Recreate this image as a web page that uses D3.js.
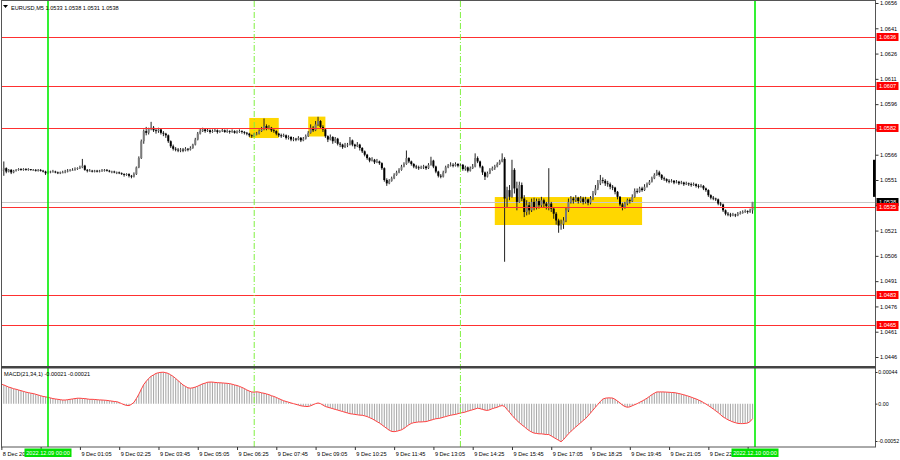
<!DOCTYPE html>
<html><head><meta charset="utf-8">
<script src="https://cdn.jsdelivr.net/npm/d3@7"></script>
<style>
body{margin:0;background:#fff}
svg{display:block}
text{font-family:"Liberation Sans",Arial,sans-serif;}
</style>
</head><body>
<svg id="chart" width="900" height="460"></svg>
<script>
// ---------------- DATA ----------------
const symbol = "EURUSD,M5";
const pipBase = 1.05;          // prices below are in pips above 1.0500
const firstBarTime = Date.UTC(2022, 11, 8, 22, 25);
const barMinutes = 5;

const opens = [
56.5,57,58,56,57,55.5,56.5,57,57.5,57,
57.5,57,57.5,57,57,56.5,57,56.5,56,55,
55.5,56,56,55.5,55,55.5,55.5,56,56.5,57,
57,57.5,58,58.5,59.5,57,56.5,56.5,56,56.5,
56,56.5,56.5,57,56.5,56,56,55.5,55.5,55,
54.5,54,54.5,53.5,53,54.5,58.5,64,74,80,
79,81.5,82,80.5,80,81,79,78.5,77.5,74,
71,69.5,69,68.5,69,68.5,69.5,69,70,72,
75,78.5,80,81,80,80.5,79.5,80,80.5,79.5,
80,80.5,79.5,80,79.5,80,79,79.5,80,79.5,
79,78.5,77.5,77,78,78.5,80,81,83,81.5,
82,80.5,80,78.5,77.5,77,77.5,76,76.5,75,
75.5,75,76,74.5,75.5,77,79,82,80.5,84,
86,82.5,81,77,75,76.5,74,75.5,72.5,72,
70.5,71.5,72,74.5,72,71,72,70,68,66,
64,62.5,63,61.5,62,61,58,51,49,50.5,
52,54,55.5,57,59,60.5,64,62,60.5,59,
58.5,58,58.5,59,58,60,62.5,59,56,53.5,
53,55.5,58.5,59.5,60,59.5,60.5,59.5,60,57.5,
58.5,56.5,58,59,64,62,59,55.5,53,55,
57,58,59,60.5,62,63.5,40,45,41,57,
46,38,48,40,32,36,33,38,35,38.5,
36,39,37,35.5,37,34,31,27,24,25,
27,33,38,40,39,40.5,38.5,40,38,39.5,
37.5,40,43,46,49,51,50.5,49,48.5,47,
46.5,44,41,36.5,35,37,39,38.5,41,44.5,
44,46,45,47,48.5,50,52,54,55.5,54,
52,51.5,50.5,50,50.5,49.5,50,49,49.5,48.5,
49,48.5,48,48.5,47.5,47,47.5,46,45,42,
40.5,40,39.5,37,36.5,33,31,30.5,30,30.5,
30,31,31.5,32,32.5,32,33];

const highs = [
58,62,58.5,57.5,57.5,57,57.5,58,58,58,
58,58,57.5,57.5,57.5,57.5,57.5,57,56.5,56.5,
56.5,57,56.5,56,56,56.5,57,57.5,57.5,58,
58.5,58.5,59.5,63.5,60,57.5,57.5,57,57,57,
57,57.5,57.5,57.5,57,56.5,56.5,56,56,55.5,
55,55,55,54,55.5,59,65,75,81,82.5,
82,85.5,83,81.5,82,81.5,80,79,78,74.5,
72,70.5,70,70,70,70.5,70,71,72.5,76,
79.5,81.5,82,81.5,81.5,81,81,81.5,81,80.5,
81.5,81,81,80.5,81,80.5,80.5,81,80.5,80,
79.5,79,78,79,79.5,81,82.5,87.5,84,83.5,
82.5,81.5,80.5,79,78.5,78.5,78,77.5,77,76.5,
76,77,76.5,76.5,78,80,84,83,86,88.5,
86.5,83.5,81.5,77.5,78,77,76.5,76,73.5,72.5,
73,73,76.5,75,72.5,73.5,72.5,70.5,68.5,66.5,
64.5,64.5,63.5,63.5,62.5,61.5,58.5,52,51.5,53,
55,56.5,58,60,61.5,68.5,64.5,62.5,61,60,
59.5,59.5,60,59.5,61,64.8,63,59.5,56.5,54.5,
56.5,59.5,60.5,61.5,61,61.5,61,61,60.5,59.5,
59,59,60.5,66.8,65,62.5,59.5,56,56,58,
59,60,61.5,63,66.8,64.5,47,48,63,58,
50,50,49.5,42,39,38,40,40.5,40,40,
41,40,38,58,38,35,32,28,27.5,29,
34.5,40,41.5,41,42,41,41.5,41,41,40,
41.5,44.5,48,51,54,52.5,51.5,50.5,49.5,48,
47,44.5,41.5,37.5,38,40,40,42.5,46,46,
47,47,48.5,49.5,51,53,55,57,56.5,54.5,
53,52,51.5,51.5,51,51,50.5,50.5,50,50,
49.5,49.5,49.5,49,48.5,48.5,48,46.5,45.5,42.5,
41.5,40.5,40,38,37,33.5,32,31.5,31.5,31,
32,32.5,33,33.5,33,34,38];

const lows = [
55.5,53.5,55,55.5,54.5,55,56,56.5,56.5,56.5,
56.5,56.5,56.5,56.5,56,56,56,55.5,54,54.5,
55,55.5,55,54.5,54.5,55,55,55.5,56,56.5,
56.5,57,57.5,58,56.5,55.5,56,55.5,55.5,55.5,
55.5,56,56,56,55.5,55,55,54.5,54.5,54,
53,53.5,52.5,52,52.5,54,58,63.5,72.5,77.5,
78,80.5,79.5,78.5,79,78,77,76,73,70,
68.5,68,67.5,67.5,67.5,68,68,68.5,69.5,71.5,
74.5,78,79.5,79,79.5,78.5,79,79.5,78.5,79,
79.5,79,79,78.5,79,78.5,78.5,79,78.5,78,
77.5,76.5,76,76.5,77.5,78,79.5,80.5,80.5,81,
79.5,79,77.5,76.5,76,76.5,75,75,74,74,
74,74.5,73.5,74,75,76.5,78.5,79.5,80,83,
81.5,79.5,76,73.5,74.5,72.5,73,71.5,70.5,69.5,
70,70.5,71.5,71,69.5,70.5,68.5,67,65,63,
61.5,62,60.5,61,60,57,50,47.5,48.5,50,
51.5,53.5,55,56.5,58.5,60,61,59.5,58,57.5,
57,57.5,57.5,57,57.5,59.5,58,55,52.5,52,
52.5,55,58,59,58.5,59,58.5,58.5,56.5,56.5,
55.5,56,57.5,58.5,61,58,54,51,52.5,54.5,
56.5,57,58.5,60,61.5,2.5,35,39,40.5,43,
33,37.5,38.5,29,30,30.5,32,33,33.5,34,
35,35,33.5,33,32,28,24.5,19.7,21.5,22,
26,32,37,37,38,37,37.5,36.5,37,36,
36.5,39,42,45,48,49,47.5,47,45.5,45,
42.5,39.5,35.5,33,34,36,37,38,40.5,43,
43.5,44,44.5,46.5,48,49.5,51.5,53.5,53,51,
50.5,49.5,49,49.5,48.5,49,48,48.5,47.5,48,
47.5,47,47.5,46.5,46,46.5,45,44,41,39.5,
39,38.5,36,35.5,32,30,29.5,29,29.5,29,
29.5,30.5,31,31.5,31,31.5,31];

const closes = [
57,58,56,57,55.5,56.5,57,57.5,57,57.5,
57,57.5,57,57,56.5,57,56.5,56,55,55.5,
56,56,55.5,55,55.5,55.5,56,56.5,57,57,
57.5,58,58.5,59.5,57,56.5,56.5,56,56.5,56,
56.5,56.5,57,56.5,56,56,55.5,55.5,55,54.5,
54,54.5,53.5,53,54.5,58.5,64,74,80,79,
81.5,82,80.5,80,81,79,78.5,77.5,74,71,
69.5,69,68.5,69,68.5,69.5,69,70,72,75,
78.5,80,81,80,80.5,79.5,80,80.5,79.5,80,
80.5,79.5,80,79.5,80,79,79.5,80,79.5,79,
78.5,77.5,77,78,78.5,80,81,83,81.5,82,
80.5,80,78.5,77.5,77,77.5,76,76.5,75,75.5,
75,76,74.5,75.5,77,79,82,80.5,84,86,
82.5,81,77,75,76.5,74,75.5,72.5,72,70.5,
71.5,72,74.5,72,71,72,70,68,66,64,
62.5,63,61.5,62,61,58,51,49,50.5,52,
54,55.5,57,59,60.5,64,62,60.5,59,58.5,
58,58.5,59,58,60,62.5,59,56,53.5,53,
55.5,58.5,59.5,60,59.5,60.5,59.5,60,57.5,58.5,
56.5,58,59,64,62,59,55.5,53,55,57,
58,59,60.5,62,63.5,40,45,41,57,46,
38,48,40,32,36,33,38,35,38.5,36,
39,37,35.5,37,34,31,27,24,25,27,
33,38,40,39,40.5,38.5,40,38,39.5,37.5,
40,43,46,49,51,50.5,49,48.5,47,46.5,
44,41,36.5,35,37,39,38.5,41,44.5,44,
46,45,47,48.5,50,52,54,55.5,54,52,
51.5,50.5,50,50.5,49.5,50,49,49.5,48.5,49,
48.5,48,48.5,47.5,47,47.5,46,45,42,40.5,
40,39.5,37,36.5,33,31,30.5,30,30.5,30,
31,31.5,32,32.5,32,33,38];

// MACD(21,34,1) main value per bar, in units of 0.00001 (signal = main, period 1)
const macdValues = [
27,26,24.5,23,22,20.7,20,19,18,17,
16,15.3,14.5,14,13,12,11,10,9.5,8.6,
8,7,6.5,6,5.5,5,5,5.5,6,6.5,
7,7.5,7.5,7.2,7,6.5,6,6,5.8,5.4,
5.2,5,4.8,4.5,4,3.5,3,2.7,1.5,0,
-1.5,-2.5,-2.7,-1,1.8,7,13,20,26.6,31,
35,38,40,42,43,43.5,43.7,43,42,40,
37.8,35,32,29,26,24,22,21.5,22,23,
24.3,26,27.5,28.5,29.7,30,30,29.5,29.2,29,
28.8,28.5,28.2,27.8,27,26,25.2,24,22.5,21,
19,17.5,16.2,16,16.5,16,15,14.4,13.5,12.5,
11,10,8.6,7,5.5,4,3,2,0.9,0,
-1,-2,-3,-3.5,-4,-4,-3,-1.5,0,0.9,
0,-2,-4,-5,-6,-7,-8,-9,-10,-11,
-12,-13,-14,-14.5,-15,-15.5,-16,-16.2,-17,-18,
-19.5,-21,-23,-25,-27,-29.5,-32,-34.5,-37,-38.7,
-39,-38.5,-37.5,-36.5,-34.5,-32,-29.5,-27.5,-26.5,-26,
-25.5,-25.5,-25.2,-25,-24,-23,-22,-21,-20.7,-20,
-19,-18,-17,-16.2,-15.5,-15,-14,-13,-12.5,-11.7,
-10.5,-9.5,-8.5,-7.5,-6.3,-7,-8,-9,-9.5,-8.5,
-7,-6,-5,-3.5,-2.7,-4,-8,-12,-16.2,-20,
-23.5,-26.5,-29.5,-32,-35,-37.5,-39.5,-41,-41.5,-42,
-42,-42.5,-43,-43,-45,-47,-49,-51,-53,-50,
-46,-42,-38.7,-35.5,-32.5,-29.5,-26.5,-23.5,-20.7,-17,
-13,-9,-5,-1,3,6.3,7.5,8,8,7.7,
6,3.5,1,-2,-4,-5,-4.5,-3,-1.5,0,
1.8,3.5,5.5,7.5,10,12.5,14.5,16.2,16.3,16.3,
16.2,16,15.8,15.5,15.3,14.8,14,13.2,12.3,11.3,
10.2,9,7.7,6.5,5,3.5,1.5,-0.5,-2.7,-5,
-7.5,-10,-12.5,-15.5,-18.5,-20.5,-22.5,-24,-25.5,-26.5,
-27.5,-27.8,-27.8,-27.5,-27,-25,-21];

const levelPrices = [1.0636, 1.0607, 1.0582, 1.0535, 1.0483, 1.0465];
const priceTicks = [1.0446,1.0461,1.0476,1.0491,1.0506,1.0521,1.0536,1.0551,1.0566,1.0581,1.0596,1.0611,1.0626,1.0641,1.0656];
const macdTicks = [0.00044, 0, -0.00052];
const macdTickLabels = ["0.00044", "0.00", "-0.00052"];
const lastPrice = 1.0538;
const scaleMarker = [1.0541, 1.0563];

const boxStarts = ["2022-12-09T06:50Z", "2022-12-09T08:50Z", "2022-12-09T15:10Z"];
const boxEnds   = ["2022-12-09T07:50Z", "2022-12-09T09:25Z", "2022-12-09T20:10Z"];
const boxHighs  = [1.05878, 1.05886, 1.05409];
const boxLows   = [1.05759, 1.05768, 1.05243];

const dayLines = ["2022-12-09T00:00Z", "2022-12-10T00:00Z"];
const dayLabels = ["2022.12.09 00:00", "2022.12.10 00:00"];
const sessionLines = ["2022-12-09T07:00Z", "2022-12-09T14:00Z"];

// ---------------- LAYOUT ----------------
const W = 900, H = 460;
const L = 1, R = 875.5, T = 1, mainB = 366, macdT = 368.5, B = 447;

const svg = d3.select("#chart");
const toPrice = v => +(pipBase + v / 10000).toFixed(5);
const barTime = i => new Date(firstBarTime + i * barMinutes * 60000);
const bars = closes.map((c, i) => ({
  t: barTime(i), o: toPrice(opens[i]), h: toPrice(highs[i]), l: toPrice(lows[i]), c: toPrice(c),
  m: macdValues[i] / 100000
}));

const x = d3.scaleUtc()
  .domain([new Date(dayLines[0]), new Date(dayLines[1])])
  .range([48, 755]);
const y = d3.scaleLinear().domain([1.0446, 1.0656]).range([357, 3]);
const ym = d3.scaleLinear().domain([-0.00052, 0.00044]).range([441, 372]);

svg.append("rect").attr("width", W).attr("height", H).attr("fill", "#fff");

const defs = svg.append("defs");
defs.append("clipPath").attr("id", "mainClip").append("rect")
  .attr("x", L).attr("y", T).attr("width", R - L).attr("height", mainB - T);
defs.append("clipPath").attr("id", "macdClip").append("rect")
  .attr("x", L).attr("y", macdT).attr("width", R - L).attr("height", B - macdT);

const main = svg.append("g").attr("clip-path", "url(#mainClip)");
const macdG = svg.append("g").attr("clip-path", "url(#macdClip)");

// yellow rectangles (background)
main.selectAll("rect.box").data(boxStarts).join("rect").attr("class", "box")
  .attr("x", (d, i) => x(new Date(d)))
  .attr("width", (d, i) => x(new Date(boxEnds[i])) - x(new Date(d)))
  .attr("y", (d, i) => y(boxHighs[i]))
  .attr("height", (d, i) => y(boxLows[i]) - y(boxHighs[i]))
  .attr("fill", "#ffd700");

// current price line
main.append("line").attr("x1", L).attr("x2", R)
  .attr("y1", Math.round(y(lastPrice)) + 0.5).attr("y2", Math.round(y(lastPrice)) + 0.5)
  .attr("stroke", "#c8c8c8").attr("stroke-width", 1);

// candles
const cg = main.append("g");
cg.selectAll("line.wick").data(bars).join("line").attr("class", "wick")
  .attr("x1", d => x(d.t)).attr("x2", d => x(d.t))
  .attr("y1", d => y(d.h)).attr("y2", d => y(d.l))
  .attr("stroke", "#222").attr("stroke-width", 1);
cg.selectAll("rect.body").data(bars).join("rect").attr("class", "body")
  .attr("x", d => x(d.t) - 1).attr("width", 2)
  .attr("y", d => y(Math.max(d.o, d.c)))
  .attr("height", d => Math.max(0.8, Math.abs(y(d.o) - y(d.c))))
  .attr("fill", d => d.c >= d.o ? "#7a7a7a" : "#000");

// red level lines
main.selectAll("line.lvl").data(levelPrices).join("line").attr("class", "lvl")
  .attr("x1", L).attr("x2", R)
  .attr("y1", d => Math.round(y(d)) + 0.5).attr("y2", d => Math.round(y(d)) + 0.5)
  .attr("stroke", "#ff3030").attr("stroke-width", 1);

// MACD histogram + signal line
macdG.selectAll("line.hist").data(bars).join("line").attr("class", "hist")
  .attr("x1", d => x(d.t)).attr("x2", d => x(d.t))
  .attr("y1", ym(0)).attr("y2", d => ym(d.m))
  .attr("stroke", "#ababab").attr("stroke-width", 1.1);
macdG.append("path").datum(bars)
  .attr("d", d3.line().x(d => x(d.t)).y(d => ym(d.m)))
  .attr("fill", "none").attr("stroke", "#ff4040").attr("stroke-width", 1);

// vertical lines
const vg = svg.append("g");
vg.selectAll("line.day").data(dayLines).join("line").attr("class", "day")
  .attr("x1", d => x(new Date(d))).attr("x2", d => x(new Date(d)))
  .attr("y1", T).attr("y2", B)
  .attr("stroke", "#00ee00").attr("stroke-width", 1.6);
vg.selectAll("line.sess").data(sessionLines).join("line").attr("class", "sess")
  .attr("x1", d => x(new Date(d))).attr("x2", d => x(new Date(d)))
  .attr("y1", T).attr("y2", B)
  .attr("stroke", "#80f040").attr("stroke-width", 1)
  .attr("stroke-dasharray", "6,2,1,2");

// frame + separators
svg.append("rect").attr("x", L + 0.5).attr("y", T - 0.5).attr("width", R - L - 0.5).attr("height", B - T + 0.5)
  .attr("fill", "none").attr("stroke", "#555").attr("stroke-width", 1);
svg.append("line").attr("x1", L).attr("x2", R).attr("y1", 367.2).attr("y2", 367.2)
  .attr("stroke", "#444").attr("stroke-width", 2.4);

// scale marker on price axis
svg.append("rect").attr("x", R - 2.5).attr("width", 2.5)
  .attr("y", y(scaleMarker[1])).attr("height", y(scaleMarker[0]) - y(scaleMarker[1]))
  .attr("fill", "#000");

// price axis (labels hidden by tags are left out)
const fs = 5.6;
const hiddenTicks = [1.0536];
const pAxis = svg.append("g").attr("transform", `translate(${R},0)`)
  .call(d3.axisRight(y).tickValues(priceTicks).tickSize(3).tickPadding(1.5)
    .tickFormat(d => hiddenTicks.includes(d) ? "" : d3.format(".4f")(d)));
pAxis.select(".domain").remove();
pAxis.selectAll("text").attr("font-size", fs).attr("fill", "#000").attr("font-family", null);
pAxis.selectAll("line").attr("stroke", "#333");

// macd axis
const mAxis = svg.append("g").attr("transform", `translate(${R},0)`)
  .call(d3.axisRight(ym).tickValues(macdTicks).tickSize(2).tickPadding(0.8)
    .tickFormat((d, i) => macdTickLabels[i]));
mAxis.select(".domain").remove();
mAxis.selectAll("text").attr("font-size", 5.3).attr("fill", "#000").attr("font-family", null);
mAxis.selectAll("line").attr("stroke", "#333");

// level labels
const lg = svg.append("g");
function priceTag(p, fill) {
  const yy = Math.round(y(p));
  lg.append("rect").attr("x", R + 1).attr("y", yy - 4).attr("width", 22).attr("height", 8).attr("fill", fill);
  lg.append("text").attr("x", R + 3.5).attr("y", yy + 2.1).attr("font-size", fs).attr("fill", "#fff")
    .text(d3.format(".4f")(p));
}
priceTag(lastPrice, "#000");
levelPrices.forEach(p => priceTag(p, "#ff0000"));

// time axis (labels fully covered by the date boxes are left out)
const tickTimes = d3.range(0, closes.length, 16).map(barTime);
const fmt = d3.utcFormat("%-d %b %H:%M");
const dayXs = dayLines.map(d => x(new Date(d)));
const tAxis = svg.append("g").attr("transform", `translate(0,${B})`)
  .call(d3.axisBottom(x).tickValues(tickTimes).tickSize(3).tickPadding(2)
    .tickFormat((d, i) => {
      if (i === 0) return d3.utcFormat("%-d %b %Y")(d);
      if (dayXs.some(dx => Math.abs(x(d) - dx) < 22)) return "";
      return fmt(d);
    }));
tAxis.select(".domain").remove();
tAxis.selectAll("text").attr("font-size", fs).attr("fill", "#000").attr("text-anchor", "start")
  .attr("dx", "1").attr("font-family", null);
tAxis.selectAll("line").attr("stroke", "#333");

// day labels on time axis
dayLines.forEach((d, i) => {
  const cx = x(new Date(d));
  svg.append("rect").attr("x", cx - 23.5).attr("y", 448.5).attr("width", 47).attr("height", 8.5).attr("fill", "#00e000");
  svg.append("text").attr("x", cx).attr("y", 455).attr("text-anchor", "middle")
    .attr("font-size", fs).attr("fill", "#fff").text(dayLabels[i]);
});

// titles
const last = bars[bars.length - 1];
svg.append("path").attr("d", "M3,5 L8,5 L5.5,8 Z").attr("fill", "#000");
svg.append("text").attr("x", 11).attr("y", 9.5).attr("font-size", fs).attr("fill", "#000")
  .text(`${symbol}  ${[last.o, last.h, last.l, last.c].map(d3.format(".4f")).join(" ")}`);
svg.append("text").attr("x", 4).attr("y", 376).attr("font-size", fs).attr("fill", "#000")
  .text(`MACD(21,34,1) ${(last.m).toFixed(5)} ${(last.m).toFixed(5)}`);
</script>
</body></html>
